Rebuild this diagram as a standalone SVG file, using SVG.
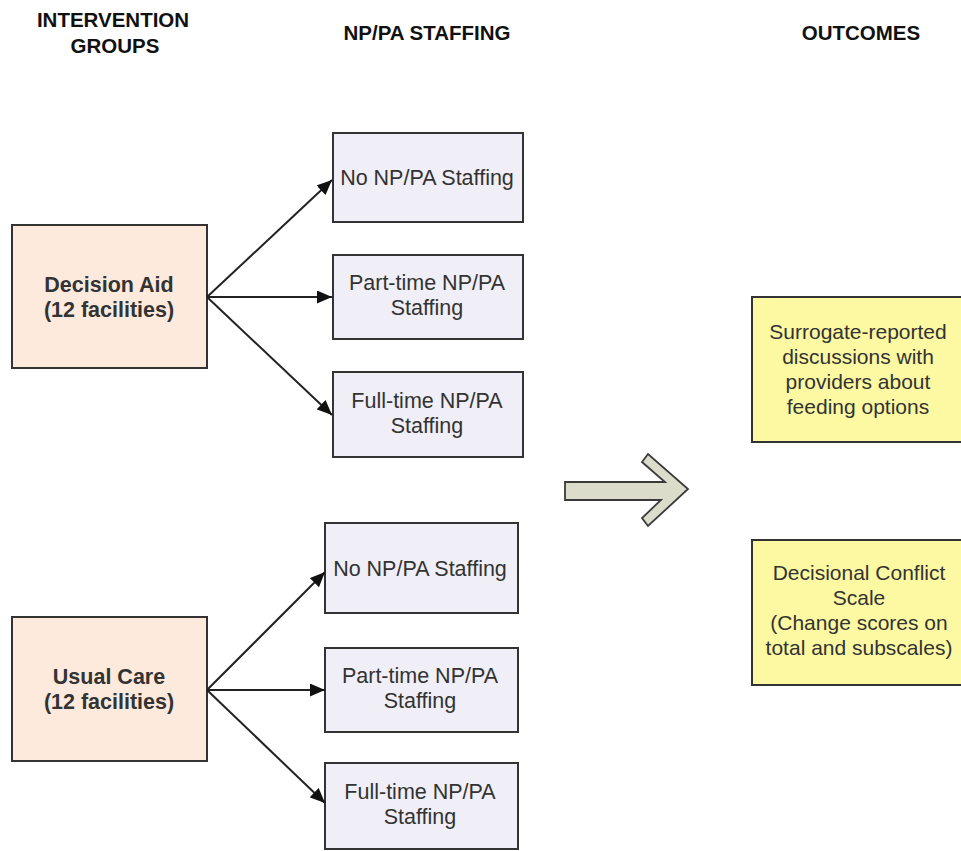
<svg xmlns="http://www.w3.org/2000/svg" width="961" height="851" viewBox="0 0 961 851">
<defs>
<marker id="ah" markerWidth="15" markerHeight="13" refX="15" refY="6.5" orient="auto" markerUnits="userSpaceOnUse">
<path d="M0,0 L15,6.5 L0,13 z" fill="#111"/>
</marker>
<style>
.hdr{font-family:"Liberation Sans",Arial,sans-serif;font-weight:bold;font-size:20.5px;fill:#111;text-anchor:middle}
.grp rect{fill:#fdeadc;stroke:#333;stroke-width:2}
.grp text{font-family:"Liberation Sans",Arial,sans-serif;font-weight:bold;font-size:21.5px;fill:#333;text-anchor:middle}
.stf rect{fill:#f0eef6;stroke:#333;stroke-width:2}
.stf text{font-family:"Liberation Sans",Arial,sans-serif;font-size:21.5px;fill:#333;text-anchor:middle}
.out text{font-family:"Liberation Sans",Arial,sans-serif;font-size:21px;fill:#333;text-anchor:middle}
.out rect{fill:#fcf9a2;stroke:#333;stroke-width:2}
.conn line{stroke:#222;stroke-width:2;marker-end:url(#ah)}
</style>
</defs>
<rect width="961" height="851" fill="#fff"/>

<g id="headers">
<text class="hdr" x="113" y="27">INTERVENTION</text>
<text class="hdr" x="115" y="53">GROUPS</text>
<text class="hdr" x="427" y="40">NP/PA STAFFING</text>
<text class="hdr" x="861" y="40">OUTCOMES</text>
</g>

<g id="decision-aid" class="grp">
<rect x="12" y="225" width="195" height="143"/>
<text x="109" y="292">Decision Aid</text>
<text x="109" y="317">(12 facilities)</text>
</g>

<g id="da-none" class="stf">
<rect x="333" y="133" width="190" height="89"/>
<text x="427" y="185">No NP/PA Staffing</text>
</g>
<g id="da-part" class="stf">
<rect x="333" y="255" width="190" height="84"/>
<text x="427" y="290">Part-time NP/PA</text>
<text x="427" y="315">Staffing</text>
</g>
<g id="da-full" class="stf">
<rect x="333" y="372" width="190" height="85"/>
<text x="427" y="408">Full-time NP/PA</text>
<text x="427" y="433">Staffing</text>
</g>

<g id="usual-care" class="grp">
<rect x="12" y="617" width="195" height="144"/>
<text x="109" y="684">Usual Care</text>
<text x="109" y="709">(12 facilities)</text>
</g>

<g id="uc-none" class="stf">
<rect x="325" y="523" width="193" height="90"/>
<text x="420" y="576">No NP/PA Staffing</text>
</g>
<g id="uc-part" class="stf">
<rect x="325" y="648" width="193" height="84"/>
<text x="420" y="683">Part-time NP/PA</text>
<text x="420" y="708">Staffing</text>
</g>
<g id="uc-full" class="stf">
<rect x="325" y="763" width="193" height="86"/>
<text x="420" y="799">Full-time NP/PA</text>
<text x="420" y="824">Staffing</text>
</g>

<g id="outcome-discussions" class="out">
<rect x="752" y="297" width="215" height="145"/>
<text x="858" y="339">Surrogate-reported</text>
<text x="858" y="364">discussions with</text>
<text x="858" y="389">providers about</text>
<text x="858" y="414">feeding options</text>
</g>
<g id="outcome-dcs" class="out">
<rect x="752" y="540" width="215" height="145"/>
<text x="859" y="580">Decisional Conflict</text>
<text x="859" y="605">Scale</text>
<text x="859" y="630">(Change scores on</text>
<text x="859" y="655">total and subscales)</text>
</g>

<g id="connectors" class="conn">
<line x1="207" y1="297" x2="332" y2="180"/>
<line x1="207" y1="297" x2="332" y2="297"/>
<line x1="207" y1="297" x2="332" y2="415"/>
<line x1="207" y1="690" x2="325" y2="572"/>
<line x1="207" y1="690" x2="325" y2="690"/>
<line x1="207" y1="690" x2="325" y2="803"/>
</g>

<g id="big-arrow">
<polygon points="565,482 665,482 642,462 648,454 688,489 648,526 642,518 661,500 565,500" fill="#dcdccb" stroke="#3a3a3a" stroke-width="1.8" stroke-linejoin="miter"/>
</g>
</svg>
